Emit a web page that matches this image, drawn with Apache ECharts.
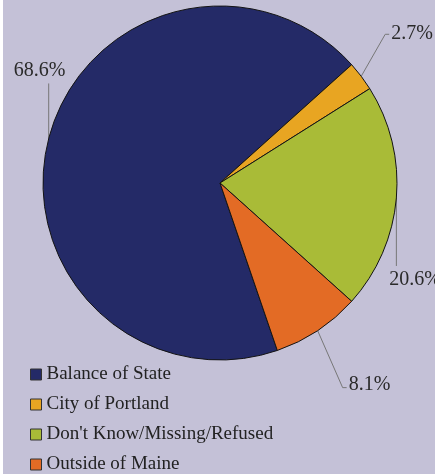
<!DOCTYPE html>
<html>
<head>
<meta charset="utf-8">
<script src="https://cdn.jsdelivr.net/npm/echarts@6/dist/echarts.min.js"></script>
<style>
html,body{margin:0;padding:0;background:#ffffff;}
#chart{position:absolute;left:3px;top:0;width:432px;height:474px;background:#c4c1d7;}
</style>
</head>
<body>
<div id="chart"></div>
<script>
const categories = ['Balance of State', 'City of Portland', "Don't Know/Missing/Refused", 'Outside of Maine'];
const values = [68.6, 2.7, 20.6, 8.1];
const colors = ['#242a67', '#e8a522', '#a9bb37', '#e36b25'];

// label offsets relative to the slice's edge anchor point (style only)
const labelGuides = [
  { bend: [0, -55], end: [0, -55], text: [-9, -58], align: 'center', va: 'bottom' },
  { bend: [24, -42], end: [28, -42], text: [30, -43], align: 'left', va: 'middle' },
  { bend: [0, 68], end: [0, 68], text: [-7, 72], align: 'left', va: 'top' },
  { bend: [25, 57], end: [29, 57], text: [31, 54], align: 'left', va: 'middle' }
];

const font = "'Liberation Serif', 'Times New Roman', 'DejaVu Serif', serif";

const chart = echarts.init(document.getElementById('chart'), null, { renderer: 'canvas' });
chart.setOption({
  backgroundColor: '#c4c1d7',
  animation: false,
  color: colors,
  textStyle: { fontFamily: font },
  legend: {
    orient: 'vertical',
    left: 27,
    top: 365,
    height: 160,
    padding: 0,
    itemWidth: 11,
    itemHeight: 11,
    itemGap: 11,
    icon: 'rect',
    data: categories,
    itemStyle: { borderColor: '#333', borderWidth: 1 },
    textStyle: { fontFamily: font, fontSize: 19, color: '#222', lineHeight: 18 },
    formatter: n => n
  },
  series: [{
    type: 'pie',
    center: [217, 183],
    radius: 177,
    startAngle: -71.1,
    clockwise: true,
    avoidLabelOverlap: false,
    itemStyle: { borderColor: '#141414', borderWidth: 1 },
    emphasis: { disabled: true },
    label: {
      show: true,
      position: 'outside',
      formatter: p => p.value.toFixed(1) + '%',
      fontFamily: font,
      fontSize: 20,
      color: '#2a2a2a'
    },
    labelLine: { show: true, length: 20, length2: 10, lineStyle: { color: '#777', width: 1 } },
    labelLayout: function (params) {
      const g = labelGuides[params.dataIndex];
      const pts = params.labelLinePoints;
      if (!pts) return {};
      const p0 = pts[0];
      return {
        x: p0[0] + g.text[0],
        y: p0[1] + g.text[1],
        align: g.align,
        verticalAlign: g.va,
        labelLinePoints: [
          [p0[0], p0[1]],
          [p0[0] + g.bend[0], p0[1] + g.bend[1]],
          [p0[0] + g.end[0], p0[1] + g.end[1]]
        ]
      };
    },
    data: categories.map((c, i) => ({ name: c, value: values[i] }))
  }]
});
</script>
</body>
</html>
